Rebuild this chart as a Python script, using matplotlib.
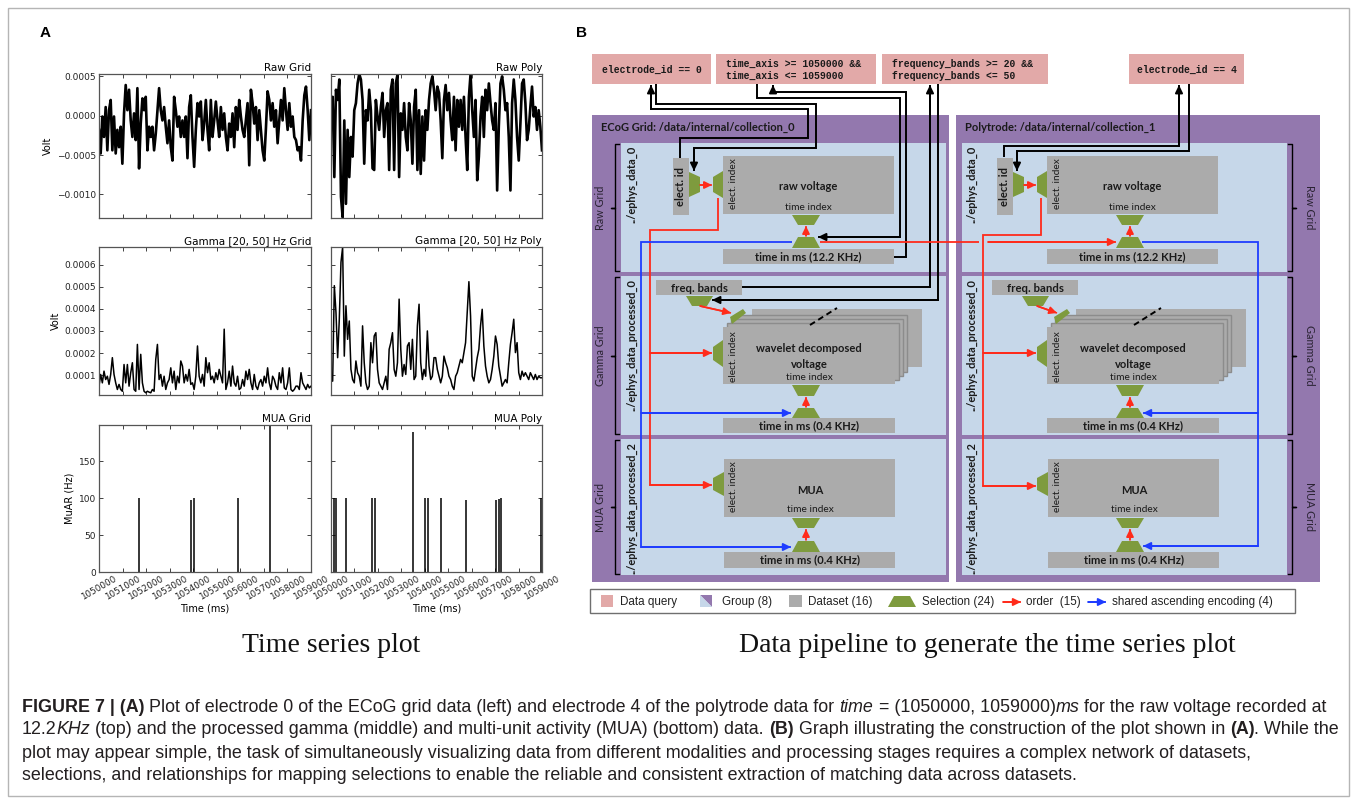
import numpy as np
import matplotlib.pyplot as plt
from matplotlib.patches import Rectangle, Polygon
from matplotlib import font_manager

W, H = 1357, 800

# ---- data ----
t_start, t_stop = 1050000, 1059000
time_ticks = list(range(1050000, 1059001, 1000))

# raw voltage, units of 1e-4 V, evenly spaced over the window
raw_grid = [-1.8, -4.8, -0.1, -2.7, 1.1, -4.4, 0.7, 2.0, -4.4, -0.1, -4.8, -1.8, -4.0, -1.4, -6.1, 0.3,
            3.9, 0.7, 3.3, -0.6, -2.7, 0.3, -3.1, 3.5, -6.7, -1.0, 2.2, 0.7, 2.4, -4.4, -1.4, -2.7,
            -1.4, -4.4, -2.3, 0.7, 3.5, 0.7, -0.6, 1.1, -1.4, -3.5, -0.6, -4.0, -5.7, 2.4, 0.7, -1.4,
            -0.1, -2.7, -0.6, -2.7, -0.1, -5.4, 1.1, 2.6, -2.7, -6.5, -1.8, 1.6, -0.1, 1.8, -3.1, -1.0,
            2.0, -1.8, -4.4, 2.0, -2.7, -0.6, 1.8, -0.6, -2.7, 1.1, -1.8, 0.3, -2.7, -4.4, -1.0, -2.7,
            0.3, -4.0, 1.1, -1.8, 2.0, -0.1, -1.8, -2.7, -0.6, 1.6, -6.3, 3.3, 1.6, -1.0, 1.1, -3.1,
            0.7, -1.8, -4.4, -5.7, -1.6, 3.1, 2.0, -0.6, 1.6, -1.4, 0.7, -3.5, -0.6, 2.0, -0.6, 3.5,
            0.7, -1.8, 1.6, -1.4, -0.1, -2.7, -3.1, -4.4, -4.0, -5.7, -0.6, 2.6, 3.7, 0.7, -3.1, 0.7]
raw_poly = [-0.6, 2.4, -7.8, 3.3, 2.0, 4.6, -10.3, -12.9, -0.6, -11.2, -1.8, -7.8, -2.7, -5.2, 0.7, 1.6,
            4.1, 5.3, 4.6, 2.0, -6.1, 0.7, -0.6, 3.3, 0.7, -6.7, -6.9, 2.0, -0.1, -1.8, 1.1, 2.9,
            -2.7, 0.7, 1.6, -6.9, 3.3, 4.6, -6.9, 4.1, 5.2, -7.8, 0.3, -1.8, 1.6, -2.7, -4.4, 1.6,
            -0.6, -6.1, 1.1, 3.3, -6.9, 0.7, -7.4, -0.1, -5.7, 0.7, -1.8, 2.0, 4.1, 5.0, 3.3, 0.7,
            3.7, 2.9, -0.6, -5.4, 2.0, 3.9, 0.7, 2.9, -0.6, -3.1, 2.4, -4.4, 2.0, -1.4, 2.0, -1.8,
            2.4, -2.7, -6.9, 2.4, 5.3, 0.7, -2.7, 2.0, -8.2, -5.2, -0.1, 2.4, -2.7, 3.3, 0.7, 4.1,
            1.6, -0.6, -1.8, 1.6, -9.5, -1.4, 4.1, 5.0, 3.3, 0.7, 1.6, -2.7, -9.5, 1.6, 4.6, 2.0,
            -2.7, -5.7, -1.0, 4.1, 4.6, 1.6, -3.1, -1.8, 1.1, 3.7, -0.1, 1.1, -1.8, 0.7, -1.4, -4.4]

# gamma band amplitude, units of 1e-4 V
gamma_grid = [0.50, 1.03, 0.65, 1.18, 0.80, 0.95, 0.58, 1.03, 1.79, 1.03, 0.65, 0.35, 0.58, 0.35, 0.27, 1.48,
              0.65, 1.48, 0.50, 1.11, 1.56, 0.35, 0.27, 2.39, 0.35, 1.94, 0.65, 0.27, 0.20, 0.27, 0.23, 0.20,
              0.35, 0.27, 1.71, 2.39, 0.80, 1.03, 0.50, 0.95, 0.35, 0.65, 0.80, 1.33, 0.65, 1.18, 0.35, 0.95,
              0.65, 1.64, 1.41, 0.65, 1.03, 0.73, 1.26, 0.58, 0.65, 0.35, 0.95, 2.32, 0.95, 0.65, 1.03, 0.50,
              1.79, 1.11, 1.56, 0.80, 0.95, 0.65, 1.11, 0.80, 1.26, 0.95, 0.65, 3.08, 0.35, 0.65, 1.18, 0.50,
              1.41, 0.65, 0.50, 0.95, 0.35, 0.42, 0.80, 0.50, 1.18, 0.80, 1.26, 0.65, 0.35, 1.03, 0.50, 0.35,
              0.65, 0.80, 0.50, 0.95, 0.65, 1.33, 0.65, 0.35, 0.95, 0.80, 0.50, 0.35, 1.11, 0.65, 1.33, 0.42,
              0.35, 0.65, 1.33, 0.35, 0.27, 0.35, 0.50, 0.50, 0.35, 1.11, 0.65, 0.50, 0.35, 0.58, 0.42, 0.50]
gamma_poly = [0.73, 0.73, 5.05, 3.83, 1.79, 3.53, 6.11, 6.79, 1.86, 4.14, 2.62, 3.45, 1.26, 0.80, 0.65, 1.64,
              1.11, 0.95, 0.50, 3.23, 1.56, 0.65, 0.35, 0.50, 2.47, 1.56, 2.77, 2.92, 1.26, 0.65, 0.50, 0.35,
              0.65, 0.95, 0.35, 2.17, 2.47, 2.92, 1.26, 0.95, 1.56, 4.44, 2.17, 0.95, 1.48, 1.03, 2.32, 2.47,
              1.26, 2.62, 0.80, 0.95, 3.23, 4.21, 1.56, 0.80, 1.26, 0.95, 3.00, 1.41, 0.80, 0.95, 1.79, 1.79,
              1.26, 0.95, 0.65, 0.95, 1.86, 1.56, 1.33, 0.95, 0.80, 0.50, 0.35, 0.95, 1.11, 1.41, 1.71, 1.56,
              2.02, 2.47, 3.83, 5.23, 3.68, 0.95, 0.73, 1.26, 1.79, 2.17, 3.23, 3.98, 2.32, 1.41, 0.95, 0.65,
              0.80, 1.26, 1.86, 2.77, 2.39, 1.41, 0.95, 0.50, 0.65, 0.80, 0.65, 1.56, 2.39, 2.92, 3.53, 2.02,
              2.47, 1.11, 0.80, 1.18, 0.95, 1.11, 0.95, 0.80, 1.11, 0.95, 0.80, 1.03, 0.80, 0.95, 0.88, 0.88]

# multi-unit activity spikes (time in ms, rate in Hz)
mua_grid_t = [1051700, 1053890, 1054017, 1055905, 1057268]
mua_grid_h = [100, 97, 100, 100, 199]
mua_poly_t = [1050140, 1050210, 1050653, 1051732, 1051874, 1053506, 1054003, 1054145,
              1054713, 1055764, 1057041, 1057154, 1057240, 1058950]
mua_poly_h = [100, 100, 100, 100, 100, 190, 100, 100, 100, 97, 97, 99, 100, 100]

raw_ticks = [0.0005, 0.0, -0.0005, -0.0010]
gamma_ticks = [0.0001, 0.0002, 0.0003, 0.0004, 0.0005, 0.0006]
mua_ticks = [0, 50, 100, 150]


def has_font(name):
    try:
        font_manager.findfont(name, fallback_to_default=False)
        return True
    except ValueError:
        return False


DIAG = 'Lato' if has_font('Lato') else 'DejaVu Sans'
MONO = 'Liberation Mono'
ARIAL = 'Liberation Sans'
CAP = 'Liberation Sans Narrow' if has_font('Liberation Sans Narrow') else 'Liberation Sans'

PINK = '#E2A9A8'
PURPLE = '#9378AE'
PANEL = '#C6D7E9'
GRAY = '#ABABAB'
GREEN = '#7E9B3E'
RED = '#FF2B1B'
BLUE = '#1E3CFF'

fig = plt.figure(figsize=(W / 100, H / 100), dpi=100)
d = fig.add_axes([0, 0, 1, 1])
d.set_xlim(0, W)
d.set_ylim(H, 0)
d.axis('off')


def px_axes(x0, y0, x1, y1):
    return fig.add_axes([x0 / W, 1 - y1 / H, (x1 - x0) / W, (y1 - y0) / H])


def fmt(v, nd):
    return f'{v:.{nd}f}'.replace('-', '\u2212')


def style(ax):
    ax.tick_params(direction='in', top=True, right=True, length=3, width=0.6,
                   labelsize=6.5, pad=2, colors='#222222')
    for s in ax.spines.values():
        s.set_color('#555555')
        s.set_linewidth(0.9)
    ax.set_xlim(t_start, t_stop)
    ax.set_xticks(time_ticks)


# ---- panel A ----
cols = [(99, 311), (331, 542)]
rows = [(74, 218), (247, 395), (425, 572)]
raw_series = [raw_grid, raw_poly]
gamma_series = [gamma_grid, gamma_poly]
mua_series = [(mua_grid_t, mua_grid_h), (mua_poly_t, mua_poly_h)]
names = ['Grid', 'Poly']

for c, (x0, x1) in enumerate(cols):
    ax = px_axes(x0, rows[0][0], x1, rows[0][1])
    style(ax)
    v = np.array(raw_series[c]) * 1e-4
    ax.plot(np.linspace(t_start, t_stop, len(v)), v, color='black', lw=1.9)
    ax.set_ylim(-0.0013, 0.00053)
    ax.set_yticks(raw_ticks)
    ax.set_yticklabels([fmt(t, 4) for t in raw_ticks] if c == 0 else [])
    ax.set_xticklabels([])
    ax.set_title('Raw ' + names[c], loc='right', fontsize=7.5, pad=2)
    if c == 0:
        ax.set_ylabel('Volt', fontsize=7, labelpad=3)

    ax = px_axes(x0, rows[1][0], x1, rows[1][1])
    style(ax)
    v = np.array(gamma_series[c]) * 1e-4
    ax.plot(np.linspace(t_start, t_stop, len(v)), v, color='black', lw=1.1)
    ax.set_ylim(0.00001, 0.00068)
    ax.set_yticks(gamma_ticks)
    ax.set_yticklabels([fmt(t, 4) for t in gamma_ticks] if c == 0 else [])
    ax.set_xticklabels([])
    ax.set_title('Gamma [20, 50] Hz ' + names[c], loc='right', fontsize=7.5, pad=2)
    if c == 0:
        ax.set_ylabel('Volt', fontsize=7, labelpad=3)

    ax = px_axes(x0, rows[2][0], x1, rows[2][1])
    style(ax)
    ts, hs = mua_series[c]
    ax.vlines(ts, 0, hs, color='black', lw=1.1)
    ax.set_ylim(0, 199)
    ax.set_yticks(mua_ticks)
    ax.set_yticklabels([str(t) for t in mua_ticks] if c == 0 else [])
    ax.set_xticklabels([str(t) for t in time_ticks], rotation=30, fontsize=6.3)
    ax.set_title('MUA ' + names[c], loc='right', fontsize=7.5, pad=2)
    ax.set_xlabel('Time (ms)', fontsize=7, labelpad=1)
    if c == 0:
        ax.set_ylabel('MuAR (Hz)', fontsize=7, labelpad=3)


# ---- panel B helpers ----
def box(x0, y0, x1, y1, fc, ec='none', lw=0, z=2):
    d.add_patch(Rectangle((x0, y0), x1 - x0, y1 - y0, fc=fc, ec=ec, lw=lw, zorder=z))


def trap(x0, x1, y0, y1, wide, inset, z=4):
    if wide == 'top':
        pts = [(x0, y0), (x1, y0), (x1 - inset, y1), (x0 + inset, y1)]
    elif wide == 'bottom':
        pts = [(x0 + inset, y0), (x1 - inset, y0), (x1, y1), (x0, y1)]
    elif wide == 'left':
        pts = [(x0, y0), (x1, y0 + inset), (x1, y1 - inset), (x0, y1)]
    else:
        pts = [(x0, y0 + inset), (x1, y0), (x1, y1), (x0, y1 - inset)]
    d.add_patch(Polygon(pts, closed=True, fc=GREEN, ec='none', zorder=z))


def wire(pts, color, lw=1.4, head=True, z=6):
    xs, ys = zip(*pts)
    d.plot(xs, ys, color=color, lw=lw, solid_joinstyle='miter', solid_capstyle='butt', zorder=z)
    if head:
        d.annotate('', xy=pts[-1], xytext=pts[-2], zorder=z,
                   arrowprops=dict(arrowstyle='-|>,head_length=0.45,head_width=0.22', color=color,
                                   lw=lw, shrinkA=0, shrinkB=0, mutation_scale=10))


def label(x, y, s, size=7, weight='normal', rot=0, ha='center', va='center', family=None, color='#1a1a1a'):
    d.text(x, y, s, fontsize=size, fontweight=weight, rotation=rot, ha=ha, va=va,
           family=family or DIAG, color=color, zorder=8)


# query boxes
queries = [((592, 711), 'electrode_id == 0'),
           ((716, 876), 'time_axis >= 1050000 &&\ntime_axis <= 1059000'),
           ((882, 1048), 'frequency_bands >= 20 &&\nfrequency_bands <= 50'),
           ((1129, 1244), 'electrode_id == 4')]
for (qx0, qx1), q in queries:
    box(qx0, 54, qx1, 84, PINK)
    d.text(qx0 + 10 if '\n' in q else (qx0 + qx1) / 2, 70, q, fontsize=7, family=MONO,
           fontweight='bold', ha='left' if '\n' in q else 'center', va='center',
           color='#1a1a1a', linespacing=1.3, zorder=8)

groups = [
    dict(outer=(592, 949), inner=(621, 946), lab_x=600, brace_x=615, bdir=1, ephys_x=632, dx=0, fx=656,
         title='ECoG Grid: /data/internal/collection_0', rot=90),
    dict(outer=(956, 1320), inner=(962, 1287), lab_x=1310, brace_x=1292, bdir=-1, ephys_x=972, dx=324, fx=992,
         title='Polytrode: /data/internal/collection_1', rot=270),
]
bands = [('Raw Grid', 143, 272, '../ephys_data_0'),
         ('Gamma Grid', 276, 435, '../ephys_data_processed_0'),
         ('MUA Grid', 439, 575, '../ephys_data_processed_2')]

for g in groups:
    box(g['outer'][0], 115, g['outer'][1], 582, PURPLE, z=1)
    label(g['outer'][0] + 9, 127, g['title'], size=8, weight='bold', ha='left')
    bx, s = g['brace_x'], g['bdir']
    for name, y0, y1, path in bands:
        box(g['inner'][0], y0, g['inner'][1], y1, PANEL, z=1.5)
        ym = (y0 + y1) / 2
        d.plot([bx + 4 * s, bx, bx, bx - 4 * s, bx, bx, bx + 4 * s],
               [y0 + 1, y0 + 1, ym, ym, ym, y1 - 1, y1 - 1], color='black', lw=1.0, zorder=3)
        label(g['lab_x'], ym, name, size=7.8, rot=g['rot'], color='#2a2333')
        label(g['ephys_x'], y0 + 3, path, size=7.9, weight='bold', rot=90, va='top')

    dx = g['dx']
    # raw voltage block
    box(673 + dx, 158, 689 + dx, 215, GRAY)
    label(681 + dx, 186, 'elect. id', size=8, weight='bold', rot=90)
    trap(689 + dx, 700 + dx, 172, 197, 'left', 5)
    wire([(700 + dx, 185), (712 + dx, 185)], RED, lw=1.2)
    trap(713 + dx, 723 + dx, 171, 198, 'right', 6)
    box(723 + dx, 156, 894 + dx, 214, GRAY)
    label(808 + dx, 187, 'raw voltage', size=8, weight='bold')
    label(808 + dx, 207, 'time index', size=7.3)
    label(733 + dx, 184, 'elect. index', size=7.3, rot=90)
    trap(792 + dx, 820 + dx, 215, 225, 'top', 6)
    wire([(806 + dx, 236), (806 + dx, 226)], RED, lw=1.2)
    trap(792 + dx, 820 + dx, 237, 248, 'bottom', 6)
    box(723 + dx, 249, 894 + dx, 264, GRAY)
    label(808 + dx, 257, 'time in ms (12.2 KHz)', size=8, weight='bold')

    # gamma block
    fx = g['fx']
    box(fx, 280, fx + 86, 295, GRAY)
    label(fx + 43, 288, 'freq. bands', size=8.2, weight='bold')
    trap(fx + 30, fx + 57, 296, 306, 'top', 6)
    box(752 + dx, 309, 922 + dx, 367, GRAY)
    for k in (3, 2, 1):
        box(723 + dx + 4 * k, 327 - 4 * k, 895 + dx + 4 * k, 384 - 4 * k, GRAY, ec='#8c8c8c', lw=1.0, z=2.2)
    d.plot([810 + dx, 837 + dx], [325, 308], color='black', lw=1.4, ls=(0, (3, 2)), zorder=3)
    d.add_patch(Polygon([(730 + dx, 317), (743 + dx, 309), (746 + dx, 313), (732 + dx, 324)],
                        closed=True, fc=GREEN, ec='none', zorder=4))
    box(723 + dx, 327, 895 + dx, 384, GRAY, z=2.5)
    label(809 + dx, 349, 'wavelet decomposed', size=8, weight='bold')
    label(809 + dx, 364, 'voltage', size=8, weight='bold')
    label(809 + dx, 377, 'time index', size=7.3)
    label(733 + dx, 357, 'elect. index', size=7.3, rot=90)
    trap(713 + dx, 723 + dx, 340, 367, 'right', 7)
    trap(792 + dx, 820 + dx, 385, 396, 'top', 6)
    wire([(806 + dx, 407), (806 + dx, 397)], RED, lw=1.2)
    trap(792 + dx, 820 + dx, 408, 418, 'bottom', 6)
    box(723 + dx, 418, 895 + dx, 433, GRAY)
    label(809 + dx, 426, 'time in ms (0.4 KHz)', size=8, weight='bold')

    # MUA block
    trap(713 + dx, 724 + dx, 472, 496, 'right', 6)
    box(724 + dx, 459, 895 + dx, 517, GRAY)
    label(810 + dx, 490, 'MUA', size=8, weight='bold')
    label(810 + dx, 510, 'time index', size=7.3)
    label(733 + dx, 487, 'elect. index', size=7.3, rot=90)
    trap(792 + dx, 820 + dx, 518, 528, 'top', 6)
    wire([(806 + dx, 540), (806 + dx, 529)], RED, lw=1.2)
    trap(792 + dx, 820 + dx, 541, 552, 'bottom', 6)
    box(724 + dx, 552, 895 + dx, 568, GRAY)
    label(810 + dx, 560, 'time in ms (0.4 KHz)', size=8, weight='bold')

# freq selection -> wavelet band selection
wire([(700, 306), (731, 313)], RED, lw=1.2)
wire([(1037, 306), (1057, 313)], RED, lw=1.2)

# query wiring
K = 'black'
wire([(656, 84), (656, 104), (816, 104), (816, 148), (694, 148), (694, 171)], K)
wire([(680, 158), (680, 138), (808, 138), (808, 109), (651, 109), (651, 85)], K)
wire([(757, 84), (757, 98), (900, 98), (900, 237), (818, 237)], K)
wire([(894, 257), (906, 257), (906, 92), (773, 92), (773, 85)], K)
wire([(938, 84), (938, 300), (712, 300)], K)
wire([(742, 287), (930, 287), (930, 85)], K)
wire([(1189, 84), (1189, 151), (1017, 151), (1017, 171)], K)
wire([(1004, 157), (1004, 146), (1179, 146), (1179, 85)], K)

# order (red) and shared encoding (blue)
wire([(718, 198), (718, 230), (650, 230), (650, 485), (712, 485)], RED, lw=1.3)
wire([(650, 353), (712, 353)], RED, lw=1.3)
wire([(1041, 198), (1041, 235), (983, 235), (983, 486), (1036, 486)], RED, lw=1.3)
wire([(983, 353), (1036, 353)], RED, lw=1.3)
wire([(820, 242), (979, 242)], RED, lw=1.3, head=False)
wire([(988, 242), (1116, 242)], RED, lw=1.3)
wire([(792, 242), (641, 242), (641, 547), (791, 547)], BLUE, lw=1.3)
wire([(641, 413), (791, 413)], BLUE, lw=1.3)
wire([(1142, 242), (1258, 242), (1258, 546), (1143, 546)], BLUE, lw=1.3)
wire([(1258, 413), (1143, 413)], BLUE, lw=1.3)

# legend
box(590, 589, 1295, 613, 'white', ec='#6f6f6f', lw=1.0, z=2)
box(601, 595, 613, 607, PINK, z=3)
d.add_patch(Polygon([(700, 595), (712, 595), (712, 607)], closed=True, fc=PURPLE, ec='none', zorder=3))
d.add_patch(Polygon([(700, 595), (712, 607), (700, 607)], closed=True, fc=PANEL, ec='none', zorder=3))
box(789, 595, 802, 607, GRAY, z=3)
trap(888, 916, 596, 607, 'bottom', 6)
wire([(1003, 602), (1021, 602)], RED, lw=1.3)
wire([(1088, 602), (1106, 602)], BLUE, lw=1.3)
for x, s in [(620, 'Data query'), (722, 'Group (8)'), (808, 'Dataset (16)'),
             (922, 'Selection (24)'), (1026, 'order  (15)'), (1112, 'shared ascending encoding (4)')]:
    d.text(x, 602, s, fontsize=8.4, family=ARIAL, ha='left', va='center', color='#222222', zorder=8)

# panel letters and subtitles
d.text(40, 33, 'A', fontsize=11, fontweight='bold', family=ARIAL, va='center')
d.text(576, 33, 'B', fontsize=11, fontweight='bold', family=ARIAL, va='center')
d.text(331, 646, 'Time series plot', fontsize=20, family='Liberation Serif', ha='center', va='center',
       color='#111111')
d.text(987, 646, 'Data pipeline to generate the time series plot', fontsize=20, family='Liberation Serif',
       ha='center', va='center', color='#111111')

# outer frame
d.add_patch(Rectangle((8, 8), 1341, 788, fc='none', ec='#b5b5b5', lw=1.0, zorder=0))

# caption with mixed styles
renderer = fig.canvas.get_renderer()
B_ = dict(fontweight='bold')
I_ = dict(fontstyle='italic')
N_ = dict()
caption = [
    [('FIGURE 7 | (A)', B_), (' Plot of electrode 0 of the ECoG grid data (left) and electrode 4 of the polytrode data for ', N_),
     ('time', I_), (' = (1050000, 1059000)', N_), ('ms', I_), (' for the raw voltage recorded at', N_)],
    [('12.2', N_), ('KHz', I_), (' (top) and the processed gamma (middle) and multi-unit activity (MUA) (bottom) data. ', N_),
     ('(B)', B_), (' Graph illustrating the construction of the plot shown in ', N_), ('(A)', B_), ('. While the', N_)],
    [('plot may appear simple, the task of simultaneously visualizing data from different modalities and processing stages requires a complex network of datasets,', N_)],
    [('selections, and relationships for mapping selections to enable the reliable and consistent extraction of matching data across datasets.', N_)],
]


def run_width(s, size, kw):
    t = d.text(0, 0, s + '|', fontsize=size, family=CAP, **kw)
    bar = d.text(0, 0, '|', fontsize=size, family=CAP, **kw)
    w = t.get_window_extent(renderer).width - bar.get_window_extent(renderer).width
    t.remove()
    bar.remove()
    return w


base = 10.0
widest = max(sum(run_width(s, base, kw) for s, kw in line) for line in caption[:2])
cap_size = base * 1321 / widest
for line, y in zip(caption, [707, 730, 753, 776]):
    x = 22
    for s, kw in line:
        d.text(x, y, s, fontsize=cap_size, family=CAP, ha='left', va='center', color='#231F20', **kw)
        x += run_width(s, cap_size, kw)

fig.savefig('out.png', dpi=100)
